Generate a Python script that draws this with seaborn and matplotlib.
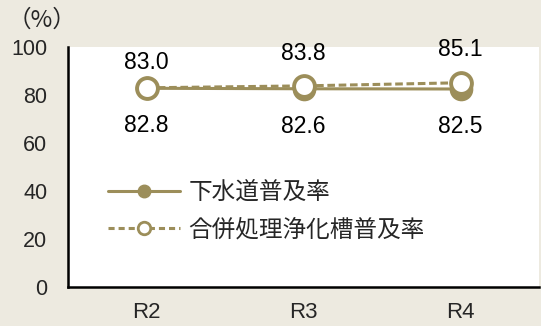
import matplotlib
matplotlib.use("Agg")
import matplotlib.pyplot as plt
import seaborn as sns
import pandas as pd
from matplotlib.lines import Line2D

categories = ["R2", "R3", "R4"]
sewer = [82.8, 82.6, 82.5]
septic = [83.0, 83.8, 85.1]
sewer_name = "下水道普及率"
septic_name = "合併処理浄化槽普及率"
yticks = [0, 20, 40, 60, 80, 100]

COL = "#9C8E5A"
BG = "#EDEAE0"
W, H = 541, 326
L, R, T, B = 68, 539, 47, 287

sns.set_theme(style="white")
plt.rcParams['font.family'] = ['Liberation Sans', 'Noto Sans CJK JP', 'DejaVu Sans']

fig = plt.figure(figsize=(W/100, H/100), dpi=100, facecolor=BG)
ax = fig.add_axes([L/W, (H-B)/H, (R-L)/W, (B-T)/H])
ax.set_facecolor("white")

pos = list(range(len(categories)))
df1 = pd.DataFrame({"x": pos, "y": sewer})
df2 = pd.DataFrame({"x": pos, "y": septic})

sns.lineplot(data=df1, x="x", y="y", ax=ax, color=COL, linewidth=2.2,
             marker="o", markersize=15, markerfacecolor=COL,
             markeredgecolor=COL, markeredgewidth=2, zorder=3)
sns.lineplot(data=df2, x="x", y="y", ax=ax, color=COL, linewidth=2.2,
             linestyle=(0, (2.5, 1.2)), marker="o", markersize=15,
             markerfacecolor="white", markeredgecolor=COL,
             markeredgewidth=2.8, zorder=4)

top_dy = [18, 23, 24]
for i in pos:
    ax.annotate(f"{septic[i]:.1f}", (i, septic[i]), xytext=(0, top_dy[i]),
                textcoords="offset points", ha="center", va="center",
                fontsize=16.5, color="black")
    ax.annotate(f"{sewer[i]:.1f}", (i, sewer[i]), xytext=(0, -27),
                textcoords="offset points", ha="center", va="center",
                fontsize=16.5, color="black")

ax.set_xlim(-0.5, 2.5)
ax.set_ylim(0, 100)
ax.set_yticks(yticks)
ax.set_yticklabels([str(v) for v in yticks], fontsize=15.5)
ax.set_xticks([0.5, 1.5, 2.5])
ax.set_xticklabels([])
ax.set_xticks(pos, minor=True)
ax.set_xticklabels(categories, minor=True, fontsize=16)
ax.tick_params(axis="x", which="major", direction="in", length=5, width=1.5, color="black")
ax.tick_params(axis="x", which="minor", length=0, pad=11)
ax.tick_params(axis="y", direction="in", length=5, width=1.5, color="black", pad=15)
ax.set_xlabel("")
ax.set_ylabel("")

for s in ["top", "right"]:
    ax.spines[s].set_visible(False)
for s in ["left", "bottom"]:
    ax.spines[s].set_linewidth(1.8)
    ax.spines[s].set_color("black")

handles = [
    Line2D([], [], color=COL, linewidth=2.2, marker="o", markersize=9,
           markerfacecolor=COL, markeredgecolor=COL),
    Line2D([], [], color=COL, linewidth=2.2, linestyle=(0, (2, 1.3)), marker="o",
           markersize=9, markerfacecolor="white", markeredgecolor=COL, markeredgewidth=2),
]
fs_leg = 17
leg = fig.legend(handles, [sewer_name, septic_name], loc="upper left",
                 bbox_to_anchor=(108/W, 1 - 181/H), frameon=False,
                 handlelength=72/(fs_leg*100/72), handletextpad=0.35,
                 labelspacing=0.62, borderpad=0, borderaxespad=0,
                 prop={"family": ["Noto Sans CJK JP"], "size": fs_leg})

fig.text(8/W, 1 - 20/H, "（%）", fontsize=17, ha="left", va="center",
         family=["Noto Sans CJK JP"])

fig.savefig("out.png", dpi=100, facecolor=BG)
